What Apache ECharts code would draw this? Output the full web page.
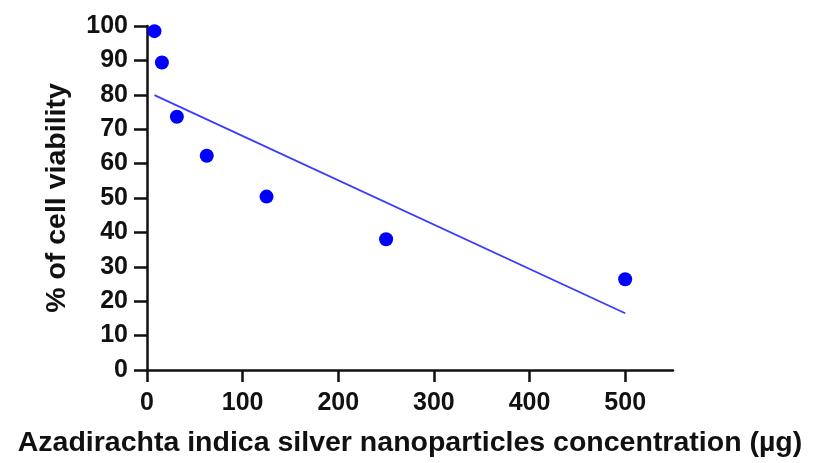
<!DOCTYPE html>
<html>
<head>
<meta charset="utf-8">
<script src="https://cdn.jsdelivr.net/npm/echarts@6/dist/echarts.min.js"></script>
<style>html,body{margin:0;padding:0;background:#fff}#c{width:815px;height:463px}</style>
</head>
<body>
<div id="c"></div>
<script>
const concentrations = [7.8, 15.6, 31.25, 62.5, 125, 250, 500];
const viability = [98.5, 89.4, 73.6, 62.3, 50.4, 38.0, 26.4];
const fitLineX = [7.8, 500];
const fitLineY = [79.9, 16.5];
const xTicks = [0, 100, 200, 300, 400, 500];
const yTicks = [0, 10, 20, 30, 40, 50, 60, 70, 80, 90, 100];

const chart = echarts.init(document.getElementById('c'), null, {renderer: 'canvas'});
const font = "'Liberation Sans', Arial, sans-serif";
chart.setOption({
  animation: false,
  backgroundColor: '#fff',
  grid: {left: 147, right: 142, top: 26, bottom: 93, containLabel: false, outerBoundsMode: 'none'},
  xAxis: {
    type: 'value', min: 0, max: 550, interval: 100,
    name: 'Azadirachta indica silver nanoparticles concentration (µg)',
    nameLocation: 'middle', nameGap: 59,
    nameTextStyle: {fontFamily: font, fontWeight: 'bold', fontSize: 28.5, color: '#111'},
    axisLine: {show: true, onZero: false, lineStyle: {color: '#111', width: 2.5}},
    axisTick: {show: true, length: 12, lineStyle: {color: '#111', width: 2.5}, customValues: xTicks},
    axisLabel: {fontFamily: font, fontWeight: 'bold', fontSize: 25, color: '#111', margin: 21, customValues: xTicks,
      formatter: v => xTicks.includes(v) ? String(v) : ''},
    splitLine: {show: false}
  },
  yAxis: {
    type: 'value', min: 0, max: 100, interval: 10,
    name: '% of cell viability',
    nameLocation: 'middle', nameGap: 75,
    nameTextStyle: {fontFamily: font, fontWeight: 'bold', fontSize: 28.5, color: '#111'},
    axisLine: {show: true, lineStyle: {color: '#111', width: 2.5}},
    axisTick: {show: true, length: 13, lineStyle: {color: '#111', width: 2.5}},
    axisLabel: {fontFamily: font, fontWeight: 'bold', fontSize: 25, color: '#111', margin: 19,
      formatter: v => yTicks.includes(v) ? String(v) : ''},
    splitLine: {show: false}
  },
  series: [
    {
      type: 'line',
      data: fitLineX.map((x, i) => [x, fitLineY[i]]),
      symbol: 'none',
      lineStyle: {color: '#3b3bff', width: 1.8},
      z: 2
    },
    {
      type: 'scatter',
      data: concentrations.map((x, i) => [x, viability[i]]),
      symbol: 'circle', symbolSize: 14,
      itemStyle: {color: '#0000ff', opacity: 1},
      z: 3
    }
  ]
});
</script>
</body>
</html>
